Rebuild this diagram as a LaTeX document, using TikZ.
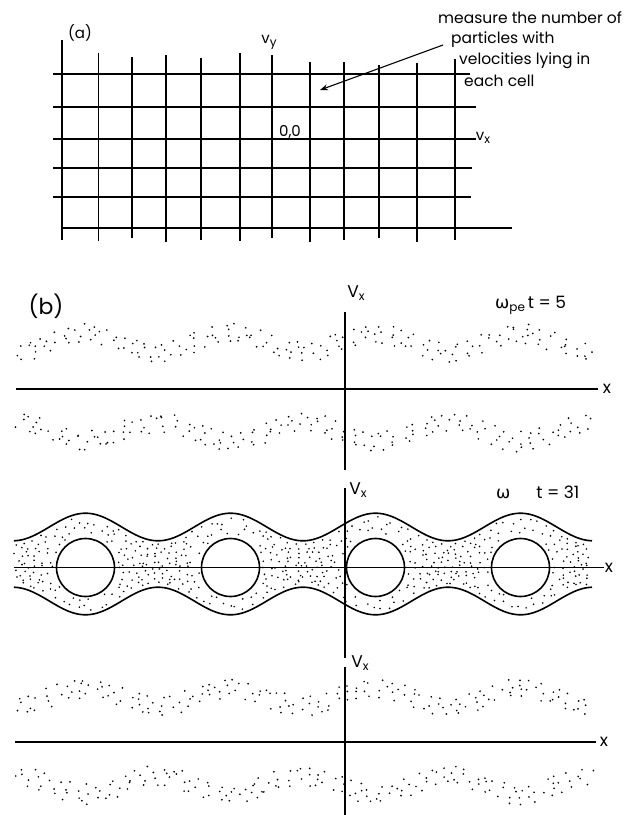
\documentclass[tikz,border=0pt]{standalone}
\usepackage{fontspec}
\setmainfont{Poppins}
\newfontfamily\grk{DejaVu Sans}
\usetikzlibrary{arrows.meta}
\newcommand{\lowsub}[1]{\raisebox{-3pt}{\fontsize{12}{13}\selectfont #1}}
% one wavy band of particles: #1 centre, #2 sign of the wave
\newcommand{\dotband}[2]{%
  \foreach \r in {0,...,3}
    \foreach \c in {0,...,44}{
      \pgfmathsetmacro{\px}{16+12.8*(\c+0.25+0.5*mod(\r,2)+0.8*(rnd-0.5))}
      \pgfmathsetmacro{\py}{#1+#2*9.5*cos((\px-85.5)*2.4828)+(\r-1.5)*5.4+5*(rnd-0.5)}
      \fill (\px,\py) circle[radius=0.95];
    }}

\begin{document}
\begin{tikzpicture}[x=1pt,y=-1pt,>=Stealth,
  gridline/.style={line width=1.7pt},
  axis/.style={line width=1.5pt},
  curve/.style={line width=1.6pt},
  lbl/.style={inner sep=0pt,font=\fontsize{15}{17}\selectfont},
  big/.style={inner sep=0pt,font=\fontsize{17}{19}\selectfont},
  note/.style={inner sep=0pt,anchor=west,font=\fontsize{15.5}{17}\selectfont}]
\useasboundingbox (0,0) rectangle (634,815);

% (a) cells in velocity space
\foreach \gx/\gt/\gb in {62/40/240,98.5/53/241,132/57/238,166/55/242,201/58/240,240/53/241,
    272/55/238,310/62/242,344/62/240,379/65/238,417/63/242,455/59/240}
  \draw[gridline] (\gx,\gt) -- (\gx,\gb);
\foreach \gy/\ga/\gb in {74/53/470,107/53/476,139/53/476,168/53/472,197/53/471,228/62/512}
  \draw[gridline] (\ga,\gy) -- (\gb,\gy);
\node[lbl] (alab) at (80,33) {(a)};
\node[lbl] (vy) at (269,42) {v\lowsub{y}};
\node[lbl] (orig) at (290,132) {0,0};
\node[lbl] (vx) at (483,138) {v\lowsub{x}};
\node[note] (n1) at (438,18) {measure the number of};
\node[note] (n2) at (451,40) {particles with};
\node[note] (n3) at (459,61) {velocities lying in};
\node[note] (n4) at (464,81) {each cell};
\coordinate (cell) at (320,90);
\draw[->,line width=1.1pt] ([xshift=-8pt,yshift=-5pt]n2.west) -- (cell);

% (b) phase space, three times
\node[inner sep=0pt,font=\fontsize{22}{24}\selectfont] (blab) at (46,306) {(b)};

\draw[axis] (345,312) -- (345,470);
\draw[axis] (16,389) -- (598,389);
\node[big] (vx1) at (356,293) {V\lowsub{x}};
\node[big] (xa) at (607,389) {x};
\node[big,anchor=west] (ta) at (495,305) {{\grk ω}\lowsub{pe}\,t = 5};
\pgfmathsetseed{11}
\dotband{343}{-1}
\dotband{432}{1}

\draw[axis] (345,488) -- (345,658);
\draw[axis] (14,567.5) -- (604,567.5);
\node[big] (vx2) at (358,490) {V\lowsub{x}};
\node[big] (xb) at (609,568) {x};
\node[big,anchor=west] (tb) at (496,492) {{\grk ω}\hspace{26pt}t = 31};
\draw[curve] plot[domain=14:592,samples=120,smooth] (\x,{527-13.8*cos((\x-85.5)*2.4828)});
\draw[curve] plot[domain=14:592,samples=120,smooth] (\x,{601+13.8*cos((\x-85.5)*2.4828)});
\foreach \cx in {85.5,230.5,375.5,520.5}
  \draw[curve] (\cx,567.5) circle[radius=29];
\foreach \r in {0,...,9}
  \foreach \c in {0,...,71}{
    \pgfmathsetmacro{\px}{15+8*(\c+0.25+0.5*mod(\r,2)+0.8*(rnd-0.5))}
    \pgfmathsetmacro{\cw}{cos((\px-85.5)*2.4828)}
    \pgfmathsetmacro{\py}{529.5-13.8*\cw+(69+27.6*\cw)*(\r+0.5+0.8*(rnd-0.5))/10}
    \pgfmathsetmacro{\xc}{85.5+145*round((\px-85.5)/145)}
    \pgfmathsetmacro{\dd}{(\px-\xc)^2+(\py-567.5)^2}
    \ifdim\dd pt>1000pt \fill (\px,\py) circle[radius=0.9]; \fi
  }

\draw[axis] (345,667) -- (345,815);
\draw[axis] (15,742) -- (596,742);
\node[big] (vx3) at (360,663) {V\lowsub{x}};
\node[big] (xc) at (604,742) {x};
\dotband{697}{-1}
\dotband{785}{1}
\end{tikzpicture}
\end{document}
